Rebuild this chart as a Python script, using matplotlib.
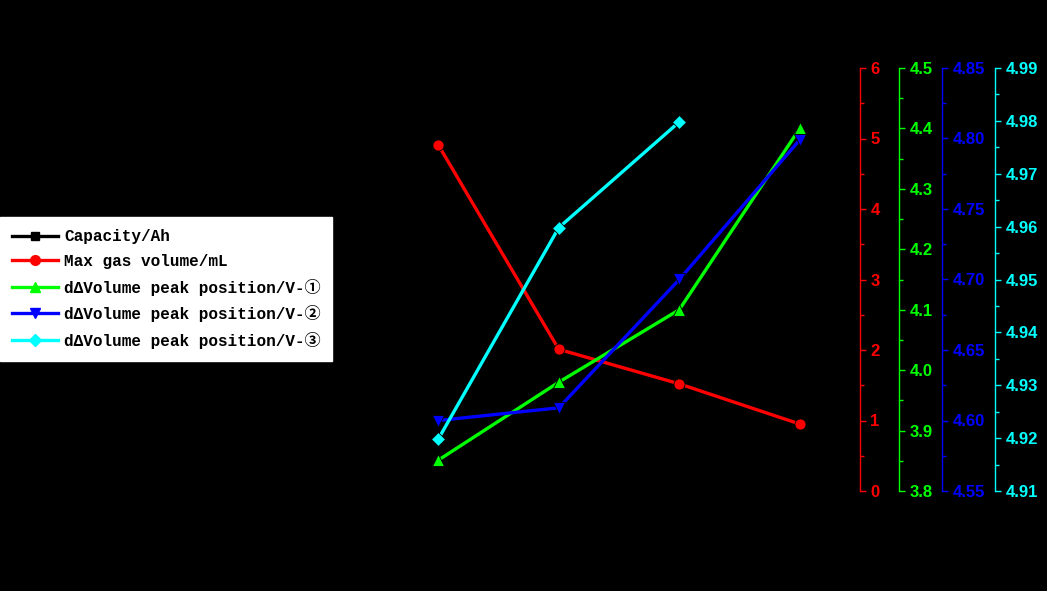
import numpy as np
import matplotlib
matplotlib.use("Agg")
import matplotlib.pyplot as plt
from matplotlib.lines import Line2D
from matplotlib.ticker import MultipleLocator, FormatStrFormatter

# Data (x positions are sample indices 1..4)
x = [1, 2, 3, 4]
gas_volume = [4.91, 2.01, 1.52, 0.95]          # Max gas volume/mL (red)
peak_1 = [3.851, 3.980, 4.100, 4.400]          # dΔVolume peak position/V-① (green)
peak_2 = [4.600, 4.609, 4.700, 4.799]          # dΔVolume peak position/V-② (blue)
x_peak3 = [1, 2, 3]
peak_3 = [4.9198, 4.9598, 4.9798]              # dΔVolume peak position/V-③ (cyan)

labels = ["Capacity/Ah", "Max gas volume/mL",
          "dΔVolume peak position/V-①",
          "dΔVolume peak position/V-②",
          "dΔVolume peak position/V-③"]

plt.rcParams['font.family'] = ['Liberation Sans', 'DejaVu Sans']

fig = plt.figure(figsize=(10.47, 5.91), dpi=100, facecolor='black')
ax = fig.add_axes([378/1047, 1 - 491/591, 482/1047, 423/591])
ax.set_facecolor('black')
for s in ax.spines.values():
    s.set_color('black')
ax.tick_params(colors='black')
ax.set_xlim(0.5, 4.5)
ax.set_yticks([])

def side_axis(pos, color, lo, hi, major, minor, fmt):
    a = ax.twinx()
    a.spines['right'].set_position(('axes', pos))
    for k in ('left', 'top', 'bottom'):
        a.spines[k].set_visible(False)
    a.spines['right'].set_color(color)
    a.spines['right'].set_linewidth(1.0)
    a.set_ylim(lo, hi)
    a.yaxis.set_major_locator(MultipleLocator(major))
    a.yaxis.set_minor_locator(MultipleLocator(minor))
    a.yaxis.set_major_formatter(FormatStrFormatter(fmt))
    a.tick_params(axis='y', which='major', colors=color, length=4.5, width=1.0,
                  direction='out', labelsize=12, pad=3)
    a.tick_params(axis='y', which='minor', colors=color, length=3, width=1.0,
                  direction='out')
    for t in a.get_yticklabels():
        t.set_fontweight('bold')
    return a

ax_r = side_axis(1.0, 'red', 0, 6, 1, 0.5, '%d')
ax_g = side_axis(1 + 39/482, '#00ff00', 3.8, 4.5, 0.1, 0.05, '%.1f')
ax_b = side_axis(1 + 82/482, 'blue', 4.55, 4.85, 0.05, 0.025, '%.2f')
ax_c = side_axis(1 + 135/482, 'cyan', 4.91, 4.99, 0.01, 0.005, '%.2f')

kw = dict(lw=2.4, ms=8, mec='black', mew=0.6, clip_on=False)
ax_r.plot(x, gas_volume, color='red', marker='o', **kw)
ax_g.plot(x, peak_1, color='#00ff00', marker='^', **kw)
ax_b.plot(x, peak_2, color='blue', marker='v', **kw)
ax_c.plot(x_peak3, peak_3, color='cyan', marker='D', **dict(kw, ms=7.5))

handles = [
    Line2D([0], [0], color='black', lw=2.4, marker='s', ms=6),
    Line2D([0], [0], color='red', lw=2.4, marker='o', ms=7),
    Line2D([0], [0], color='#00ff00', lw=2.4, marker='^', ms=7),
    Line2D([0], [0], color='blue', lw=2.4, marker='v', ms=7),
    Line2D([0], [0], color='cyan', lw=2.4, marker='D', ms=6),
]
leg = fig.legend(handles, labels, loc='center left',
                 bbox_to_anchor=(0.0, 1 - 289/591),
                 prop=dict(family=['Liberation Mono', 'Noto Sans CJK SC'],
                           weight='bold', size=11.5),
                 frameon=True, fancybox=False, framealpha=1,
                 facecolor='white', edgecolor='white',
                 handlelength=2.9, handletextpad=0.35, labelspacing=0.6,
                 borderpad=0.75, borderaxespad=0)

fig.savefig('out.png', dpi=100, facecolor='black')
